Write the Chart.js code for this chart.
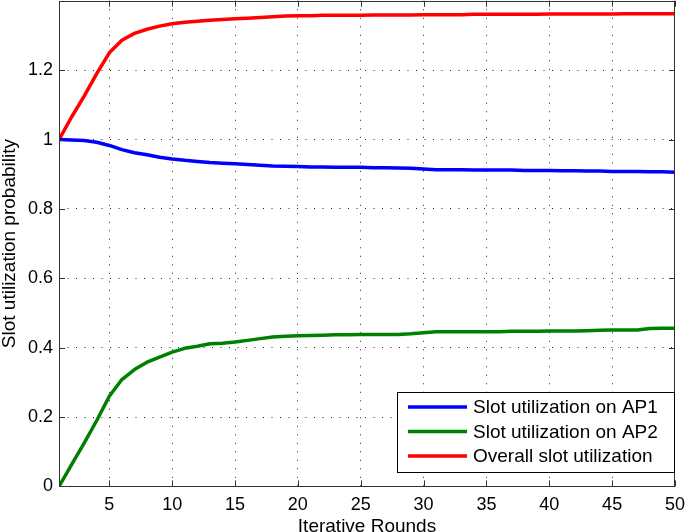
<!DOCTYPE html>
<html lang="en">
<head>
  <meta charset="UTF-8" />
  <title>Slot utilization vs iterative rounds</title>
  <style>
    html, body {
      margin: 0;
      padding: 0;
      background: #fff;
    }
    #wrap {
      width: 685px;
      height: 532px;
      overflow: hidden;
    }
    #slotChart {
      display: block;
      margin-top: -16px;
    }
  </style>
</head>
<body>

<div id="wrap"><canvas id="slotChart" width="693" height="551"></canvas></div>

<script src="https://cdn.jsdelivr.net/npm/chart.js"></script>
<script>
  const rounds = [1, 2, 3, 4, 5, 6, 7, 8, 9, 10,
    11, 12, 13, 14, 15, 16, 17, 18, 19, 20,
    21, 22, 23, 24, 25, 26, 27, 28, 29, 30,
    31, 32, 33, 34, 35, 36, 37, 38, 39, 40,
    41, 42, 43, 44, 45, 46, 47, 48, 49, 50];

  const ap1Util = [1.000, 0.999, 0.997, 0.992, 0.983, 0.971, 0.962, 0.956, 0.949, 0.944,
    0.940, 0.937, 0.934, 0.932, 0.930, 0.928, 0.926, 0.924, 0.923, 0.922,
    0.921, 0.921, 0.920, 0.920, 0.920, 0.919, 0.919, 0.918, 0.917, 0.915,
    0.913, 0.913, 0.913, 0.912, 0.912, 0.912, 0.912, 0.911, 0.911, 0.911,
    0.910, 0.910, 0.909, 0.909, 0.908, 0.908, 0.908, 0.907, 0.907, 0.906];

  const ap2Util = [0.000, 0.063, 0.125, 0.190, 0.260, 0.308, 0.337, 0.358, 0.373, 0.387,
    0.398, 0.404, 0.411, 0.413, 0.416, 0.421, 0.426, 0.431, 0.433, 0.434,
    0.435, 0.436, 0.437, 0.437, 0.438, 0.438, 0.438, 0.438, 0.440, 0.443,
    0.446, 0.446, 0.446, 0.446, 0.446, 0.446, 0.447, 0.447, 0.447, 0.448,
    0.448, 0.448, 0.449, 0.450, 0.451, 0.451, 0.451, 0.455, 0.456, 0.456];

  const overallUtil = [1.000, 1.065, 1.125, 1.190, 1.250, 1.286, 1.306, 1.318, 1.327, 1.334,
    1.338, 1.341, 1.344, 1.346, 1.348, 1.350, 1.352, 1.354, 1.356, 1.357,
    1.357, 1.358, 1.358, 1.358, 1.358, 1.359, 1.359, 1.359, 1.359, 1.360,
    1.360, 1.360, 1.360, 1.361, 1.361, 1.361, 1.361, 1.361, 1.361, 1.362,
    1.362, 1.362, 1.362, 1.362, 1.362, 1.363, 1.363, 1.363, 1.363, 1.363];

  const xTicks = [5, 10, 15, 20, 25, 30, 35, 40, 45, 50];
  const yTicks = [0, 0.2, 0.4, 0.6, 0.8, 1, 1.2];

  const FONT = "'Liberation Sans', Arial, Helvetica, sans-serif";

  function toPoints(values) {
    return values.map((v, i) => ({x: rounds[i], y: v}));
  }

  // matlab style box with inward ticks + legend inside the axes
  const matlabBox = {
    id: 'matlabBox',
    afterDraw(chart) {
      const {ctx, chartArea: a, scales} = chart;
      const tl = 6;
      ctx.save();
      ctx.strokeStyle = '#333';
      ctx.lineWidth = 1;
      ctx.beginPath();
      xTicks.forEach(v => {
        const px = Math.round(scales.x.getPixelForValue(v)) + 0.5;
        ctx.moveTo(px, a.bottom); ctx.lineTo(px, a.bottom - tl);
        ctx.moveTo(px, a.top); ctx.lineTo(px, a.top + tl);
      });
      yTicks.forEach(v => {
        const py = Math.round(scales.y.getPixelForValue(v)) + 0.5;
        ctx.moveTo(a.left, py); ctx.lineTo(a.left + tl, py);
        ctx.moveTo(a.right, py); ctx.lineTo(a.right - tl, py);
      });
      ctx.stroke();
      ctx.strokeRect(Math.round(a.left) + 0.5, Math.round(a.top) + 0.5,
        Math.round(a.right - a.left) - 1, Math.round(a.bottom - a.top) - 1);

      // legend, lower right corner of the axes
      const r = Math.round(a.right), b = Math.round(a.bottom);
      const bx = r - 277.5, by = b - 93.5;
      ctx.fillStyle = '#fff';
      ctx.fillRect(bx, by, 277, 80);
      ctx.strokeStyle = '#000';
      ctx.strokeRect(bx, by, 277, 80);
      ctx.font = '19px ' + FONT;
      ctx.textBaseline = 'middle';
      ctx.textAlign = 'left';
      chart.data.datasets.forEach((ds, i) => {
        const y = b - 79 + i * 24.5;
        ctx.strokeStyle = ds.borderColor;
        ctx.lineWidth = 3.5;
        ctx.beginPath();
        ctx.moveTo(r - 267, y); ctx.lineTo(r - 208, y);
        ctx.stroke();
        ctx.fillStyle = '#000';
        ctx.fillText(ds.label, r - 202, y + 1);
      });
      ctx.restore();
    }
  };

  const ctx = document.getElementById('slotChart').getContext('2d');

  new Chart(ctx, {
    type: 'line',
    data: {
      datasets: [
        {label: 'Slot utilization on AP1', data: toPoints(ap1Util), borderColor: '#0000ff'},
        {label: 'Slot utilization on AP2', data: toPoints(ap2Util), borderColor: '#008000'},
        {label: 'Overall slot utilization', data: toPoints(overallUtil), borderColor: '#ff0000'}
      ]
    },
    options: {
      responsive: false,
      maintainAspectRatio: false,
      animation: false,
      layout: {padding: {left: 0, right: 0, top: 0, bottom: -1}},
      elements: {
        line: {borderWidth: 3.5, tension: 0, borderCapStyle: 'round', borderJoinStyle: 'round'},
        point: {radius: 0}
      },
      scales: {
        x: {
          type: 'linear',
          min: 1,
          max: 50,
          afterBuildTicks: s => { s.ticks = xTicks.map(v => ({value: v})); },
          ticks: {color: '#000', font: {family: FONT, size: 18}, padding: 8, maxRotation: 0},
          grid: {color: 'rgba(0,0,0,0.85)', lineWidth: 1, drawTicks: false},
          border: {display: false, dash: [1, 7.5]},
          title: {
            display: true,
            text: 'Iterative Rounds',
            color: '#000',
            font: {family: FONT, size: 19, lineHeight: 1},
            padding: {top: -7, bottom: 0}
          }
        },
        y: {
          type: 'linear',
          min: 0,
          max: 1.4,
          afterBuildTicks: s => { s.ticks = yTicks.map(v => ({value: v})); },
          ticks: {
            color: '#000',
            font: {family: FONT, size: 18},
            padding: 6,
            callback: v => String(Number(v.toFixed(2)))
          },
          grid: {color: 'rgba(0,0,0,0.85)', lineWidth: 1, drawTicks: false},
          border: {display: false, dash: [1, 7.5]},
          title: {
            display: true,
            text: 'Slot utilization probability',
            color: '#000',
            font: {family: FONT, size: 19, lineHeight: 1},
            padding: {top: 0, bottom: 3}
          }
        }
      },
      plugins: {
        legend: {display: false},
        tooltip: {enabled: false}
      }
    },
    plugins: [matlabBox]
  });
</script>

</body>
</html>
